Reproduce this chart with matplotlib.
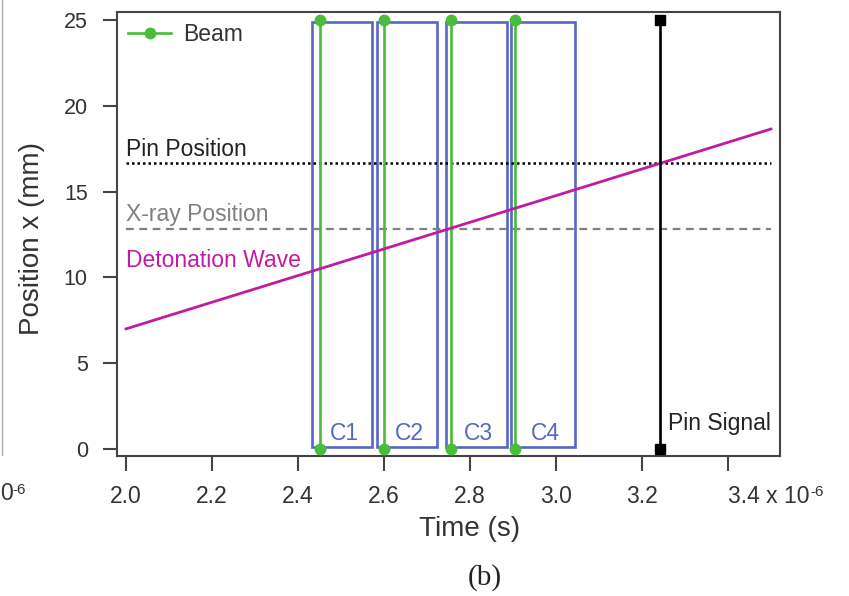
import numpy as np
import matplotlib
matplotlib.use('Agg')
import matplotlib.pyplot as plt
from matplotlib.patches import Rectangle
from matplotlib.lines import Line2D

plt.rcParams['font.family'] = ['Liberation Sans', 'DejaVu Sans']

# %% data (time in units of 1e-6 s, position in mm)
beam_times = [2.45, 2.60, 2.755, 2.905]
beam_y = [0, 25]
frame_starts = [2.433, 2.584, 2.744, 2.895]
frame_ends = [2.572, 2.723, 2.886, 3.044]
frame_labels = ['C1', 'C2', 'C3', 'C4']
frame_y = [0.1, 24.9]
pin_time = 3.242
pin_y = [0, 25]
pin_position = 16.67
xray_position = 12.82
line_t = [2.0, 3.5]
wave_t = [2.0, 3.5]
wave_x = [7.0, 18.65]
xticks = [2.0, 2.2, 2.4, 2.6, 2.8, 3.0, 3.2, 3.4]
xticklabels = ['2.0', '2.2', '2.4', '2.6', '2.8', '3.0', '3.2', '3.4 x 10']
yticks = [0, 5, 10, 15, 20, 25]

blue = '#5767c6'
green = '#48bd3a'
magenta = '#c21aa2'
grey_txt = '#333333'
W, H = 849, 596

fig = plt.figure(figsize=(W/100, H/100), dpi=100)
ax = fig.add_axes([117/W, 1-456/H, 663/W, 444/H])

# camera frames
for s, e, lab in zip(frame_starts, frame_ends, frame_labels):
    ax.add_patch(Rectangle((s, frame_y[0]), e - s, frame_y[1] - frame_y[0],
                           fill=False, edgecolor=blue, lw=1.9, zorder=2))
    ax.text((s + e) / 2 + 0.005, 0.55, lab, color=blue, fontsize=16.5,
            ha='center', va='baseline', zorder=4)

# beam pulses
for i, t in enumerate(beam_times):
    ax.plot([t, t], beam_y, color=green, lw=1.9, marker='o', ms=7.5,
            zorder=3, label='Beam' if i == 0 else None)

# position lines
ax.plot(line_t, [pin_position]*2, color='black', lw=1.8, ls=(0, (1, 1.2)), zorder=2)
ax.plot(line_t, [xray_position]*2, color='#808080', lw=1.6, ls=(0, (3.5, 2.5)), zorder=2)
ax.plot(wave_t, wave_x, color=magenta, lw=2.0, zorder=3)

# pin signal
ax.plot([pin_time, pin_time], pin_y, color='black', lw=1.9, marker='s', ms=7, zorder=3)

ax.text(2.0, 17.05, 'Pin Position', color='#222222', fontsize=16.5, va='baseline')
ax.text(2.0, 13.3, 'X-ray Position', color='#808080', fontsize=16.5, va='baseline')
ax.text(2.0, 10.6, 'Detonation Wave', color=magenta, fontsize=16.5, va='baseline')
ax.text(3.26, 1.1, 'Pin Signal', color='#222222', fontsize=16.5, va='baseline')

ax.set_xlim(1.979, 3.521)
ax.set_ylim(-0.41, 25.47)
ax.set_xticks(xticks)
ax.set_xticklabels(xticklabels)
ax.set_yticks(yticks)
ax.get_xticklabels()[-1].set_horizontalalignment('left')
ax.tick_params(direction='out', width=1.5, color='#444444', labelcolor=grey_txt)
ax.tick_params(axis='x', length=11, labelsize=16.5, pad=10)
ax.tick_params(axis='y', length=10, labelsize=15.5, pad=11)
for sp in ax.spines.values():
    sp.set_color('#444444')
    sp.set_linewidth(1.5)

ax.set_xlabel('Time (s)', fontsize=20, color=grey_txt)
ax.xaxis.set_label_coords(0.532, -0.135)
ax.set_ylabel('Position x (mm)', fontsize=20, color=grey_txt)
ax.yaxis.set_label_coords(-0.108, 0.49)

ax.legend(loc='upper left', frameon=False, fontsize=16.5, handlelength=1.85,
          borderaxespad=0.1, handletextpad=0.55, bbox_to_anchor=(0.0, 1.0),
          labelcolor=grey_txt)

fig.text(485/W, 1-578/H, '(b)', fontsize=21, family='Liberation Serif',
         ha='center', va='center', color='#222222')

# superscript exponent after the last tick label
fig.canvas.draw()
bb = ax.get_xticklabels()[-1].get_window_extent()
fig.text((bb.x1 + 1)/W, bb.y1/H, '-6', fontsize=11, ha='left', va='top', color=grey_txt)

# remnants of the neighbouring panel
fig.add_artist(Line2D([1.5/W, 1.5/W], [1, 1-455/H], color='#aaaaaa', lw=1.0))
fig.text(0.5/W, 1-500/H, '0', fontsize=16.5, ha='left', va='baseline', color=grey_txt)
fig.text(12/W, 1-483/H, '-6', fontsize=11, ha='left', va='top', color=grey_txt)

fig.savefig('out.png', dpi=100)
